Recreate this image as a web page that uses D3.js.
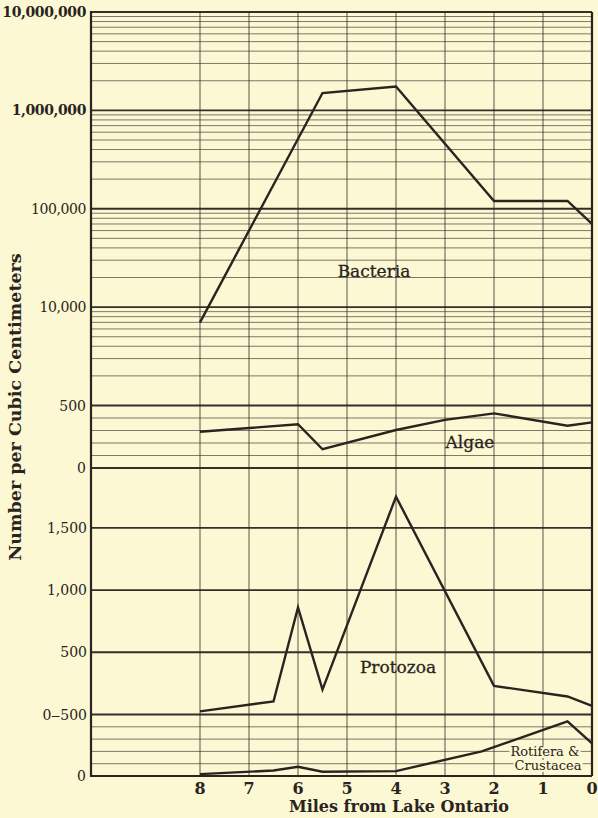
<!DOCTYPE html>
<html>
<head>
<meta charset="utf-8">
<script src="https://cdn.jsdelivr.net/npm/d3@7"></script>
<style>
  html, body { margin: 0; padding: 0; background: #fbf8d3; }
  svg { display: block; }
</style>
</head>
<body>
<svg id="chart" width="598" height="818"></svg>
<script>
// miles from Lake Ontario
const bacteriaMiles = [8, 5.5, 4, 2, 0.5, 0]
const bacteriaValues = [7000, 1500000, 1750000, 120000, 120000, 70000]

const algaeMiles = [8, 6, 5.5, 4, 3, 2, 0.5, 0]
const algaeValues = [290, 350, 150, 304, 385, 437, 338, 365]

const protozoaMiles = [8, 6.5, 6, 5.5, 4, 2, 0.5, 0]
const protozoaValues = [25, 105, 860, 200, 1750, 230, 145, 70]

const rotiferaMiles = [8, 6.5, 6, 5.5, 4, 2.25, 0.5, 0]
const rotiferaValues = [15, 45, 75, 35, 40, 200, 445, 265]

const mileTicks = [8, 7, 6, 5, 4, 3, 2, 1, 0]

const logMajor = [1e7, 1e6, 1e5, 1e4]
const logLabels = ['10,000,000', '1,000,000', '100,000', '10,000']
const algaeMajor = [500, 0]
const algaeMinor = [100, 200, 300, 400]
const protozoaMajor = [1500, 1000, 500, 0]
const protozoaLabels = ['1,500', '1,000', '500', '0\u2012500']
const rotiferaMinor = [100, 200, 300, 400]

const ink = '#2a2320'
const paper = '#fbf8d3'
const svg = d3.select('#chart')

const plotLeft = 91, plotRight = 592, plotTop = 12, plotBottom = 776

const x = d3.scaleLinear().domain([8, 0]).range([200, plotRight])

// four stacked scales share one frame
const yLog = d3.scaleLog().domain([1e3, 1e7]).range([405.5, plotTop])
const yAlgae = d3.scaleLinear().domain([0, 500]).range([468, 405.5])
const yProto = d3.scaleLinear().domain([0, 1500]).range([714.5, 527.8])
const yRot = d3.scaleLinear().domain([0, 500]).range([plotBottom, 714.5])

const grid = svg.append('g')

function hline(y, w, op) {
    grid.append('line')
        .attr('x1', plotLeft).attr('x2', plotRight)
        .attr('y1', y).attr('y2', y)
        .attr('stroke', ink)
        .attr('stroke-width', w)
        .attr('stroke-opacity', op)
}

// log minor lines 2..9 in every decade
const logMinor = []
for (let d = 1e3; d < 1e7; d *= 10)
    for (let k = 2; k < 10; k++) logMinor.push(d * k)

logMinor.forEach(v => hline(yLog(v), 0.8, 0.75))
algaeMinor.forEach(v => hline(yAlgae(v), 0.8, 0.75))
rotiferaMinor.forEach(v => hline(yRot(v), 0.8, 0.75))

logMajor.forEach(v => hline(yLog(v), 1.8, 0.95))
algaeMajor.forEach(v => hline(yAlgae(v), 1.8, 0.95))
protozoaMajor.forEach(v => hline(yProto(v), 1.8, 0.95))
hline(yRot(0), 2, 1)

grid.selectAll('.vline')
    .data(mileTicks)
    .join('line')
    .attr('class', 'vline')
    .attr('x1', d => x(d)).attr('x2', d => x(d))
    .attr('y1', plotTop).attr('y2', plotBottom)
    .attr('stroke', ink)
    .attr('stroke-width', d => d === 0 ? 2.2 : 0.9)
    .attr('stroke-opacity', d => d === 0 ? 1 : 0.85)

grid.append('line')
    .attr('x1', plotLeft).attr('x2', plotLeft)
    .attr('y1', plotTop - 1).attr('y2', plotBottom + 1)
    .attr('stroke', ink).attr('stroke-width', 2.2)

// data lines
const lines = svg.append('g')
    .attr('fill', 'none')
    .attr('stroke', ink)
    .attr('stroke-width', 2.4)
    .attr('stroke-linejoin', 'miter')

function series(miles, values, y) {
    const pts = miles.map((m, i) => [m, values[i]])
    lines.append('path')
        .attr('d', d3.line().x(d => x(d[0])).y(d => y(d[1]))(pts))
}
series(bacteriaMiles, bacteriaValues, yLog)
series(algaeMiles, algaeValues, yAlgae)
series(protozoaMiles, protozoaValues, yProto)
series(rotiferaMiles, rotiferaValues, yRot)

// tick labels
const serif = '"DejaVu Serif", "Liberation Serif", serif'
const labels = svg.append('g')
    .attr('font-family', serif)
    .attr('fill', ink)
    .attr('text-anchor', 'end')
    .attr('dominant-baseline', 'central')

logMajor.forEach((v, i) => {
    labels.append('text')
        .attr('x', 86).attr('y', yLog(v))
        .attr('font-size', 14)
        .attr('font-weight', i < 2 ? 'bold' : 'normal')
        .attr('letter-spacing', -0.4)
        .text(logLabels[i])
})
algaeMajor.forEach(v => {
    labels.append('text')
        .attr('x', 86).attr('y', yAlgae(v))
        .attr('font-size', 14)
        .text(v)
})
protozoaMajor.forEach((v, i) => {
    labels.append('text')
        .attr('x', 87).attr('y', yProto(v))
        .attr('font-size', 14)
        .text(protozoaLabels[i])
})
labels.append('text')
    .attr('x', 86).attr('y', yRot(0))
    .attr('font-size', 14)
    .text('0')

svg.append('g')
    .selectAll('text')
    .data(mileTicks)
    .join('text')
    .attr('x', d => x(d)).attr('y', 794)
    .attr('text-anchor', 'middle')
    .attr('font-family', serif)
    .attr('font-size', 16)
    .attr('font-weight', 'bold')
    .attr('fill', ink)
    .text(d => d)

svg.append('text')
    .attr('x', 399).attr('y', 812)
    .attr('text-anchor', 'middle')
    .attr('font-family', serif)
    .attr('font-size', 16)
    .attr('font-weight', 'bold')
    .attr('fill', ink)
    .text('Miles from Lake Ontario')

svg.append('text')
    .attr('transform', 'translate(21,407) rotate(-90)')
    .attr('text-anchor', 'middle')
    .attr('font-family', serif)
    .attr('font-size', 17.5)
    .attr('font-weight', 'bold')
    .attr('fill', ink)
    .text('Number per Cubic Centimeters')

// series names
function seriesName(txt, px, py, size) {
    svg.append('text')
        .attr('x', px).attr('y', py)
        .attr('text-anchor', 'middle')
        .attr('font-family', serif)
        .attr('font-size', size)
        .attr('fill', ink)
        .attr('stroke', ink)
        .attr('stroke-width', 0.3)
        .text(txt)
}
seriesName('Bacteria', 374, 277, 17)
seriesName('Algae', 470, 448, 17)
seriesName('Protozoa', 398, 673, 17)

// rotifera label sits on a patch of paper, grid shows as leaders
const rotLabel = svg.append('g')
    .attr('font-family', serif)
    .attr('font-size', 13)
    .attr('fill', ink)
    .attr('text-anchor', 'middle');
[['Rotifera &', 545, 756], ['Crustacea', 548, 770]].forEach(d => {
    const t = rotLabel.append('text').attr('x', d[1]).attr('y', d[2]).text(d[0])
    const b = t.node().getBBox()
    rotLabel.insert('rect', 'text')
        .attr('x', b.x - 1).attr('y', b.y + 2)
        .attr('width', b.width + 2).attr('height', b.height - 3)
        .attr('fill', paper)
})
</script>
</body>
</html>
